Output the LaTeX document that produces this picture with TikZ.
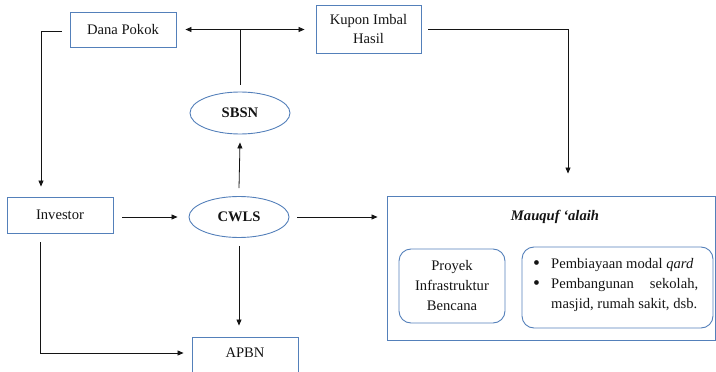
\documentclass[tikz,border=0pt]{standalone}
\usepackage{fontspec}
\setmainfont{Liberation Serif}[Ligatures=TeX]
\newfontfamily\timesface{Liberation Serif}
\usetikzlibrary{arrows.meta,shapes.geometric}

\definecolor{boxblue}{RGB}{84,128,186}
\definecolor{inkgray}{RGB}{20,20,20}

\newcommand{\listdot}{\makebox[19pt][l]{\hspace*{1pt}\raisebox{-0.9pt}{\scalebox{1.35}{\textbullet}}}}

\tikzset{
  plainbox/.style={draw=boxblue, line width=0.9pt, rectangle, inner sep=2pt,
    text=inkgray, font=\timesface\fontsize{14.6}{19}\selectfont, align=center},
  roundbox/.style={plainbox, rounded corners=12pt},
  oval/.style={draw=boxblue, line width=0.9pt, ellipse, minimum width=100pt,
    minimum height=42pt, inner sep=0pt, text=inkgray,
    font=\timesface\fontsize{14.6}{17}\selectfont\bfseries},
  flow/.style={draw=inkgray, line width=0.8pt,
    -{Triangle[length=6pt,width=5pt]}},
  bothways/.style={draw=inkgray, line width=0.8pt,
    {Triangle[length=6pt,width=5pt]}-{Triangle[length=6pt,width=5pt]}},
  bare/.style={draw=inkgray, line width=0.8pt},
}

\begin{document}
\begin{tikzpicture}[x=1pt, y=-1pt]
  \useasboundingbox (0,0) rectangle (716,372);
  \clip (0,0) rectangle (716,372);

  % top row
  \node[plainbox, minimum width=106pt, minimum height=35pt] (dana) at (123,29.5) {Dana Pokok};
  \node[plainbox, minimum width=105pt, minimum height=48pt] (kupon) at (368.5,29) {Kupon Imbal\\Hasil};

  % issuers / instruments
  \node[oval] (sbsn) at (240,113) {SBSN};
  \node[oval, minimum height=41pt] (cwls) at (239,217) {CWLS};

  % left and bottom boxes
  \node[plainbox, minimum width=106pt, minimum height=36pt] (inv) at (60,215) {Investor};
  \node[plainbox, minimum width=106pt, minimum height=38pt, text depth=6pt] (apbn) at (245,356) {APBN};

  % beneficiaries panel
  \node[plainbox, minimum width=328pt, minimum height=144pt] (mauquf) at (551,268) {};
  \node[text=inkgray, font=\timesface\fontsize{14.6}{17}\selectfont\bfseries\itshape] (mtitle) at (555,217) {Mauquf ‘alaih};
  \node[roundbox, minimum width=106pt, minimum height=74pt, font=\timesface\fontsize{14.6}{20}\selectfont] (proyek) at (452,286)
    {Proyek\\Infrastruktur\\Bencana};
  \node[roundbox, minimum width=191pt, minimum height=81pt] (ket) at (617.5,287.5) {};
  \node[anchor=north west, inner sep=0pt, text=inkgray, align=left,
        font=\timesface\fontsize{14.6}{20}\selectfont] (ketlist) at (532,258)
    {\listdot Pembiayaan modal \textit{qard}\\
     \listdot\makebox[147pt][s]{Pembangunan sekolah,}\\
     \hspace*{19pt}masjid, rumah sakit, dsb.};

  % money flows between the top boxes
  \coordinate (split) at ([yshift=7pt]sbsn.north);
  \draw[bothways] ([xshift=9pt]dana.east) -- ([xshift=-11pt]kupon.west |- dana.east);
  \draw[bare] (split) -- (split |- dana.east);

  \draw[flow] ([xshift=-8pt,yshift=-2pt]dana.west) -| ([xshift=-19pt,yshift=10pt]inv.north);
  \draw[flow] ([xshift=7pt]kupon.east) -| ([xshift=17pt,yshift=22pt]mauquf.north);

  % flows around CWLS
  \draw[flow] ([yshift=8pt]cwls.north) -- ([yshift=-8pt]sbsn.south);
  \draw[flow] ([xshift=9pt,yshift=-2pt]inv.east) -- ([xshift=-11pt]cwls.west);
  \draw[flow] ([xshift=8pt]cwls.east) -- ([xshift=-9pt]cwls.east -| mauquf.west);
  \draw[flow] ([yshift=-8pt]cwls.south) -- ([yshift=11pt]cwls.south |- apbn.north);
  \draw[flow] ([xshift=-20pt,yshift=-9pt]inv.south) |- ([xshift=-8pt,yshift=3pt]apbn.west);
\end{tikzpicture}
\end{document}
